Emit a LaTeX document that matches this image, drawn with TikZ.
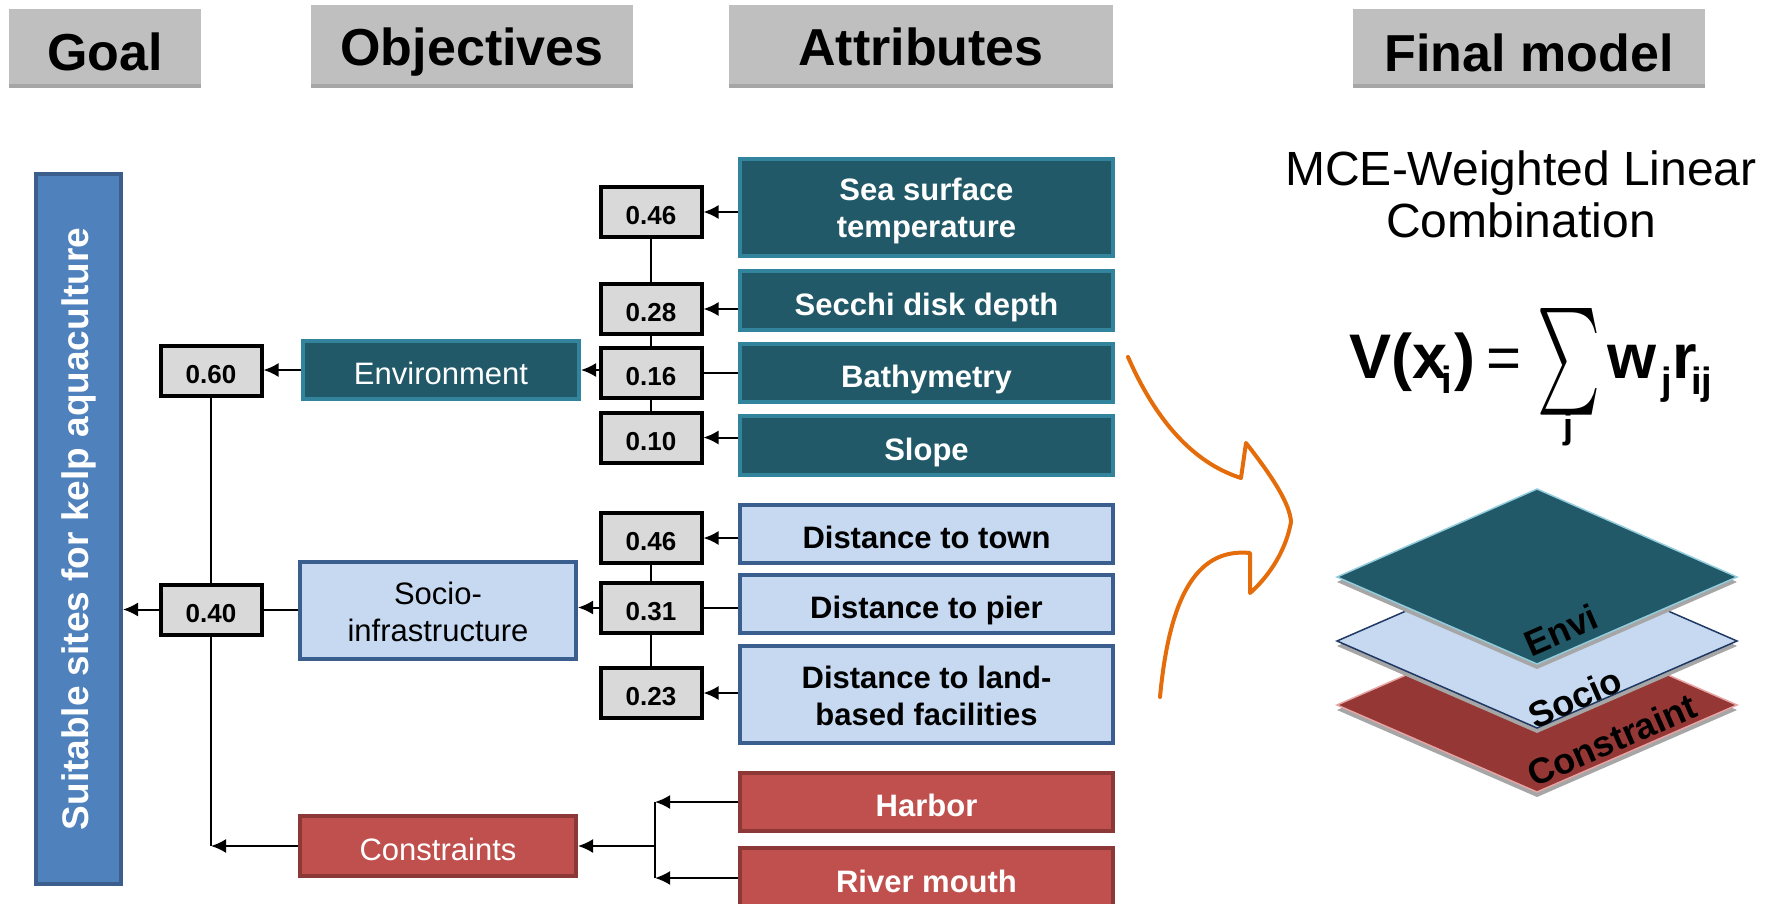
\documentclass[tikz,border=0pt]{standalone}
\usepackage{fontspec}
\setmainfont{Liberation Sans}
\usepackage{graphicx}
\usetikzlibrary{arrows.meta,calc}
\definecolor{teal1}{HTML}{215968}
\definecolor{teal2}{HTML}{31849B}
\definecolor{teal3}{HTML}{93CDDD}
\definecolor{sky1}{HTML}{C6D9F1}
\definecolor{sky2}{HTML}{3A5F8E}
\definecolor{navy1}{HTML}{1F3864}
\definecolor{red1}{HTML}{C0504D}
\definecolor{red2}{HTML}{8C3836}
\definecolor{red3}{HTML}{953735}
\definecolor{red4}{HTML}{E6A5A4}
\definecolor{blue1}{HTML}{4F81BD}
\definecolor{blue2}{HTML}{3B5E8C}
\definecolor{gray1}{HTML}{BFBFBF}
\definecolor{gray2}{HTML}{A6A6A6}
\definecolor{gray3}{HTML}{D9D9D9}
\definecolor{orange1}{HTML}{E46C0A}

\tikzset{
  headtext/.style={inner sep=0pt,text height=37pt,text depth=0pt,font=\fontsize{52}{52}\selectfont\bfseries},
  wbox/.style={draw=black,line width=4pt,fill=gray3,minimum width=101pt,minimum height=50pt,inner sep=0pt,text height=25pt,text depth=0pt,font=\fontsize{26}{26}\selectfont\bfseries},
  envbox/.style={draw=teal2,line width=4pt,fill=teal1,text=white,minimum width=373pt,inner sep=0pt,text height=61pt,text depth=0pt,align=center,font=\fontsize{31}{37}\selectfont\bfseries},
  socbox/.style={envbox,draw=sky2,fill=sky1,text=black},
  conbox/.style={envbox,draw=red2,fill=red1,text=white},
  oneline/.style={text height=29pt,text depth=0pt},
  objenv/.style={envbox,oneline,minimum width=276pt,font=\fontsize{31}{37}\selectfont},
  objsoc/.style={socbox,minimum width=276pt,font=\fontsize{31}{37}\selectfont},
  objcon/.style={conbox,oneline,minimum width=276pt,font=\fontsize{31}{37}\selectfont},
  arr/.style={line width=2pt,-{Latex[length=15pt,width=14pt]}},
  conn/.style={line width=2pt},
  fml/.style={anchor=base west,inner sep=0pt,font=\fontsize{63}{63}\selectfont\bfseries},
  fmlsub/.style={anchor=base west,inner sep=0pt,font=\fontsize{38}{38}\selectfont\bfseries},
  layertext/.style={rotate=23.6,inner sep=0pt,font=\fontsize{36}{36}\selectfont\bfseries}
}

\begin{document}
\begin{tikzpicture}[x=1pt,y=-1pt]
\useasboundingbox (0,0) rectangle (1773,904);

% column headers
\fill[gray1] (9,9) rectangle (201,88);
\fill[gray2] (9,84) rectangle (201,88);
\node[headtext] (hgoal) at (105,52) {Goal};

\fill[gray1] (311,5) rectangle (633,88);
\fill[gray2] (311,84) rectangle (633,88);
\node[headtext] (hobj) at (472,47) {Objectives};

\fill[gray1] (729,5) rectangle (1113,88);
\fill[gray2] (729,84) rectangle (1113,88);
\node[headtext] (hattr) at (921,47) {Attributes};

\fill[gray1] (1353,9) rectangle (1705,88);
\fill[gray2] (1353,84) rectangle (1705,88);
\node[headtext] (hfinal) at (1529,53) {Final model};

% goal
\node[draw=blue2,line width=4pt,fill=blue1,minimum width=85pt,minimum height=710pt,inner sep=0pt] (goal) at (78.5,529) {};
\node[rotate=90,text=white,inner sep=0pt,font=\fontsize{37}{37}\selectfont\bfseries] (goaltxt) at (goal.center) {Suitable sites for kelp aquaculture};

\node[wbox] (wg1) at (211,371) {0.60};
\node[wbox] (wg2) at (211,609.5) {0.40};

% objectives
\node[objenv,minimum height=58pt] (env) at (441,370) {Environment};
\node[objsoc,minimum height=97pt] (soc) at (438,610.5) {Socio-\\infrastructure};
\node[objcon,minimum height=60pt] (con) at (438,846) {Constraints};

% attributes
\node[envbox,minimum height=97pt] (a11) at (926.5,207.5) {Sea surface\\temperature};
\node[envbox,oneline,minimum height=59pt] (a12) at (926.5,300.5) {Secchi disk depth};
\node[envbox,oneline,minimum height=58pt] (a13) at (926.5,373) {Bathymetry};
\node[envbox,oneline,minimum height=59pt] (a14) at (926.5,445.5) {Slope};

\node[socbox,oneline,minimum height=58pt] (a21) at (926.5,534) {Distance to town};
\node[socbox,oneline,minimum height=58pt] (a22) at (926.5,604) {Distance to pier};
\node[socbox,minimum height=97pt] (a23) at (926.5,694.5) {Distance to land-\\based facilities};

\node[conbox,oneline,minimum height=58pt] (a31) at (926.5,802) {Harbor};
\node[conbox,oneline,minimum height=60pt] (a32) at (926.5,878) {River mouth};

% weights
\node[wbox] (w11) at (651,212) {0.46};
\node[wbox] (w12) at (651,309) {0.28};
\node[wbox] (w13) at (651,372.5) {0.16};
\node[wbox] (w14) at (651,437.5) {0.10};

\node[wbox] (w21) at (651,538) {0.46};
\node[wbox] (w22) at (651,607.5) {0.31};
\node[wbox] (w23) at (651,693) {0.23};

\coordinate (br) at (655,846);

% connectors
\draw[conn] (w11.south) -- (w12.north);
\draw[conn] (w12.south) -- (w13.north);
\draw[conn] (w13.south) -- (w14.north);
\draw[arr] (a11.west |- w11) -- (w11.east);
\draw[arr] (a12.west |- w12) -- (w12.east);
\draw[conn] (a13.west |- w13) -- (w13.east);
\draw[arr] (a14.west |- w14) -- (w14.east);
\draw[arr] (w13.west |- env.east) -- (env.east);
\draw[arr] (env.west) -- (env.west -| wg1.east);

\draw[conn] (w21.south) -- (w22.north);
\draw[conn] (w22.south) -- (w23.north);
\draw[arr] (a21.west |- w21) -- (w21.east);
\draw[conn] (a22.west |- w22) -- (w22.east);
\draw[arr] (a23.west |- w23) -- (w23.east);
\draw[arr] (w22.west) -- (w22.west -| soc.east);
\draw[conn] (soc.west |- wg2) -- (wg2.east);
\draw[arr] (wg2.west) -- (wg2.west -| goal.east);

\draw[conn] (wg1.south) -- (wg2.north);
\draw[conn] (wg2.south) -- (wg2.south |- con.west);
\draw[arr] (con.west) -- (con.west -| wg2.south);

\draw[conn] (br |- a31) -- (br |- a32);
\draw[arr] (a31.west) -- (a31.west -| br);
\draw[arr] (a32.west) -- (a32.west -| br);
\draw[arr] (br) -- (con.east);

% final model
\node[align=center,inner sep=0pt,font=\fontsize{48}{52}\selectfont] (mce) at (1521,194) {MCE-Weighted Linear\\Combination};

\node[fml] (fv) at (1349,378) {V(x};
\node[fmlsub] (fi) at (1441,393) {i};
\node[fml] (fp) at (1454,378) {)};
\node[fml,font=\fontsize{60}{60}\selectfont] (feq) at (1486,378) {=};
\node[inner sep=0pt] (fsum) at (1568.5,362) {\resizebox{63pt}{80pt}{$\sum$}};
\node[anchor=base,inner sep=0pt,font=\fontsize{36}{36}\selectfont\bfseries] (fj) at (1568,438) {j};
\node[fml] (fw) at (1607,378) {w};
\node[fmlsub] (fj2) at (1661,394) {j};
\node[fml] (fr) at (1672,378) {r};
\node[fmlsub] (fij) at (1691,394) {ij};

% layers
\fill[gray2] (1337,710) -- (1537,623) -- (1737,710) -- (1537,797) -- cycle;
\filldraw[fill=red3,draw=red4,line width=1.5pt] (1337,705) -- (1537,618) -- (1737,705) -- (1537,792) -- cycle;
\fill[gray2] (1337,646) -- (1537,559) -- (1737,646) -- (1537,733) -- cycle;
\filldraw[fill=sky1,draw=navy1,line width=1.5pt] (1337,641) -- (1537,554) -- (1737,641) -- (1537,728) -- cycle;
\fill[gray2] (1337,582) -- (1537,494) -- (1737,582) -- (1537,669) -- cycle;
\filldraw[fill=teal1,draw=teal3,line width=1.5pt] (1337,577) -- (1537,489) -- (1737,577) -- (1537,664) -- cycle;

\node[layertext] (lenv) at (1561,630) {Envi};
\node[layertext] (lsoc) at (1575,698) {Socio};
\node[layertext] (lcon) at (1612,740) {Constraint};

% orange arrow
\draw[orange1,line width=4pt,line join=round,line cap=round] (1128,357) .. controls (1160,430) and (1200,465) .. (1241,478) -- (1246,443) .. controls (1275,480) and (1290,505) .. (1291,522) .. controls (1285,555) and (1265,580) .. (1250,593) -- (1250,553) .. controls (1200,548) and (1170,590) .. (1160,697);

\end{tikzpicture}
\end{document}
